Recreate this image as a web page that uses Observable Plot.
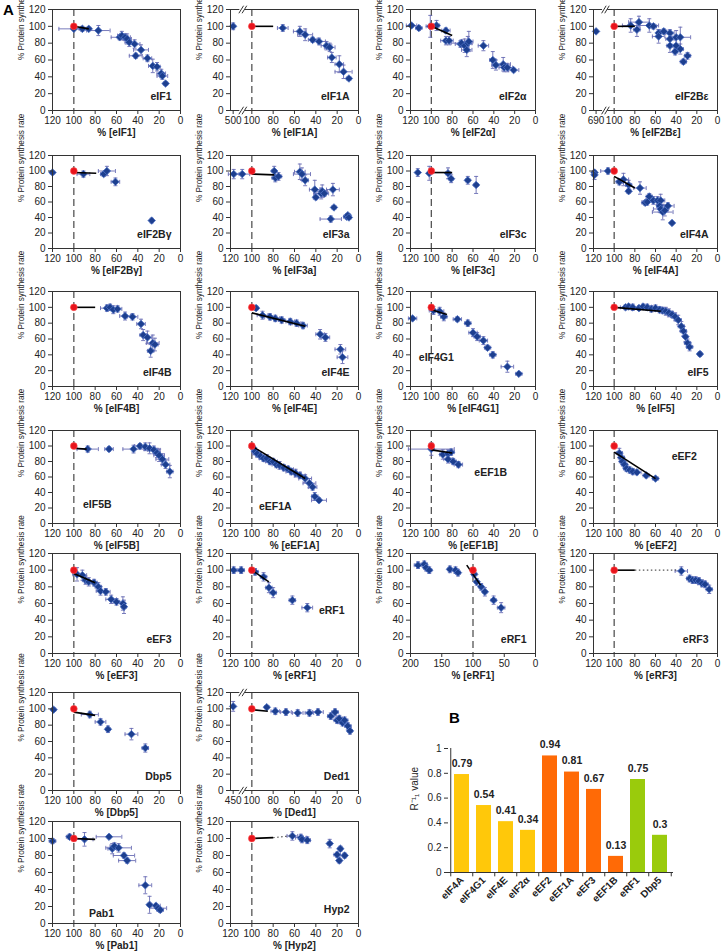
<!DOCTYPE html>
<html><head><meta charset="utf-8">
<script src="https://cdn.jsdelivr.net/npm/d3@7"></script>
<script src="https://cdn.jsdelivr.net/npm/@observablehq/plot@0.6"></script>
<style>
body{margin:0;background:#fff;font-family:"Liberation Sans",Arial,sans-serif;}
#root{position:relative;width:724px;height:951px;overflow:hidden;}
.panel{position:absolute;}
.big{position:absolute;font-weight:bold;font-size:15px;}
</style></head><body><div id="root"></div><script>
// ---------- data: [x %, y %, x error, y error] ----------
const eIF1 = [[100,97,14,2],[92,97,3,3],[86,97,2,2],[77,95,11,6],[57,87,8,3],[55,89,4,5],[52,87,5,4],[50,85,4,6],[48,81,4,5],[43,79,5,5],[42,65,6,3],[37,72,7,6],[31,62,4,4],[26,53,4,8],[22,52,3,5],[18,44,4,5],[17,41,5,4],[14,32,2,2]];
const eIF1A = [[500,100,0,4],[71,98,5,4],[55,94,6,6],[50,90,7,7],[43,84,4,3],[37,82,6,4],[30,77,5,5],[27,75,5,5],[25,63,4,6],[18,55,4,10],[14,46,8,8],[9,38,2,2]];
const eIF2a = [[119,101,5,2],[112,98,3,3],[101,100,4,13],[95,101,3,6],[86,95,4,3],[86,83,5,5],[83,83,4,5],[72,79,5,4],[71,80,10,4],[68,77,4,8],[66,72,5,8],[65,80,4,8],[64,82,4,12],[50,77,5,6],[41,60,3,10],[38,54,4,6],[31,55,7,8],[30,51,5,5],[27,51,5,5],[21,48,5,2]];
const eIF2Be = [[690,94,0,2],[84,101,8,8],[78,96,3,8],[76,105,10,7],[66,101,9,8],[62,100,3,3],[57,92,2,4],[57,88,6,8],[52,94,3,3],[46,92,4,4],[46,85,4,8],[46,77,3,8],[41,70,2,4],[40,77,4,8],[40,87,4,8],[36,87,10,12],[36,73,3,6],[33,58,3,3],[29,65,3,4]];
const eIF2Bg = [[120,98,2,0],[91,96,6,4],[72,96,3,3],[69,100,8,6],[61,86,4,5],[27,36,1,3]];
const eIF3a = [[117,96,5,6],[109,96,7,6],[79,100,2,6],[78,91,3,5],[75,93,3,5],[55,99,5,10],[53,96,8,8],[50,88,3,7],[41,76,5,12],[40,66,2,3],[35,71,7,7],[34,74,5,8],[32,71,2,4],[24,76,6,8],[23,53,2,2],[26,38,10,4],[11,41,3,3],[10,43,2,2],[9,40,2,2]];
const eIF3c = [[113,98,0,5],[102,97,0,9],[84,97,2,7],[81,90,2,5],[65,88,2,5],[57,82,2,11]];
const eIF4A = [[119,98,2,2],[119,95,2,6],[106,100,7,4],[95,86,3,4],[91,89,5,8],[86,82,3,6],[86,74,2,3],[75,78,6,8],[66,67,3,4],[70,59,3,3],[68,60,5,4],[62,62,4,5],[58,62,6,5],[55,62,4,8],[56,55,3,8],[55,51,7,5],[53,47,10,10],[51,49,3,7],[48,55,6,4],[44,33,1,1]];
const eIF4B = [[69,99,6,4],[66,100,3,4],[63,97,5,5],[59,98,4,4],[52,89,5,5],[45,88,5,4],[37,79,4,6],[35,65,3,7],[31,62,4,8],[28,45,3,8],[26,55,6,10],[24,53,3,8]];
const eIF4E = [[96,99,2,3],[90,90,5,5],[83,88,5,4],[78,86,4,4],[72,84,3,4],[64,82,4,4],[58,80,4,4],[52,77,4,4],[36,66,4,6],[31,62,4,5],[17,47,5,6],[15,37,5,8]];
const eIF4G1 = [[118,86,4,2],[98,96,4,5],[92,95,4,5],[88,88,3,5],[75,85,4,3],[65,80,3,4],[60,68,4,5],[56,63,3,5],[50,58,4,5],[46,49,3,3],[41,40,3,4],[27,25,6,7],[16,16,3,2]];
const eIF5 = [[89,100,5,3],[86,101,3,3],[82,100,5,4],[76,99,5,3],[72,101,4,3],[68,100,5,4],[64,98,4,4],[60,99,4,4],[56,97,4,4],[53,96,4,4],[50,95,3,5],[47,93,4,5],[44,91,4,4],[41,88,3,5],[38,84,3,6],[35,76,3,6],[33,70,3,6],[31,63,2,6],[29,55,3,5],[27,50,3,5],[17,41,2,3]];
const eIF5B = [[87,96,10,4],[67,96,4,3],[44,96,10,5],[38,100,5,3],[33,99,4,5],[29,97,5,7],[25,95,6,5],[22,91,3,6],[20,88,5,8],[17,83,6,7],[14,76,4,5],[10,67,3,8]];
const eEF1A = [[99,98,2,3],[97,93,3,4],[95,90,4,4],[92,87,4,4],[89,84,4,4],[86,84,3,5],[83,80,4,4],[80,80,4,4],[77,76,4,4],[74,75,4,5],[70,72,4,4],[66,70,5,4],[63,67,5,4],[59,65,5,5],[55,62,5,4],[50,58,6,5],[46,52,6,6],[43,47,4,4],[41,35,3,5],[37,30,7,3]];
const eEF1B = [[100,96,22,8],[89,89,3,6],[84,90,3,5],[81,92,3,4],[84,83,4,5],[79,80,3,4],[74,76,4,4]];
const eEF2 = [[95,91,3,6],[93,85,3,5],[92,80,3,4],[90,76,3,4],[88,71,3,4],[85,69,3,4],[82,67,3,4],[78,66,4,3],[69,62,3,3],[60,58,3,2]];
const eEF3 = [[97,95,4,8],[92,94,4,6],[89,88,3,5],[86,86,4,5],[81,85,3,4],[77,80,3,5],[75,75,4,5],[70,74,4,4],[65,65,5,5],[60,62,3,4],[54,60,2,8],[53,56,2,8]];
const eRF1 = [[117,100,3,4],[110,100,3,4],[97,98,3,4],[89,92,3,5],[84,79,3,6],[80,73,3,6],[62,64,3,5],[48,55,5,5]];
const eRF1w = [[188,106,6,4],[178,107,5,4],[175,103,4,4],[170,100,4,4],[137,101,3,4],[128,100,4,4],[124,97,4,4],[98,95,4,4],[94,86,3,4],[87,80,3,4],[81,74,3,5],[67,64,4,5],[55,55,6,6]];
const eRF3 = [[35,99,6,5],[27,90,3,4],[24,88,4,4],[21,88,4,4],[18,87,4,4],[15,84,4,4],[12,83,3,4],[8,77,3,5]];
const Dbp5 = [[119,99,2,2],[85,93,8,4],[75,84,5,4],[68,75,2,4],[46,69,6,7],[33,52,3,5]];
const Ded1 = [[450,103,0,6],[86,102,2,2],[78,97,4,4],[68,96,5,4],[57,95,5,4],[46,95,4,4],[38,96,5,4],[26,91,3,4],[22,96,3,4],[20,86,3,4],[18,88,3,4],[15,83,3,4],[13,86,3,4],[10,79,3,4],[8,73,2,4]];
const Pab1 = [[120,97,3,3],[104,102,3,3],[90,99,8,8],[67,102,12,2],[64,88,4,6],[62,91,4,4],[58,89,12,5],[53,80,10,3],[50,74,8,3],[33,45,6,10],[29,22,2,10],[23,21,4,2],[21,18,8,3],[19,16,3,3]];
const Hyp2 = [[62,103,5,5],[54,101,5,4],[53,99,2,4],[48,98,3,4],[27,94,2,5],[20,81,3,3],[18,74,2,3],[17,88,2,3],[13,80,2,3]];

// fitted lines [panel, x1, y1, x2, y2]
const fitLines = [["eIF1",100,100,86,97],["eIF1A",100,100,80,100],["eIF2a",100,100,80,89],["eIF2Be",100,100,80,100],
 ["eIF2Bg",100,98,79,97],["eIF3a",100,96,79,95],["eIF3c",100,98,80,98],["eIF4A",100,93,80,78],
 ["eIF4B",100,100,80,100],["eIF4E",100,93,50,76],["eIF4G1",100,97,85,91],["eIF5",100,100,55,95],
 ["eIF5B",100,97,88,96],["eEF1A",100,100,50,58],["eEF1B",100,95,80,91],["eEF2",100,92,60,58],
 ["eEF3",100,96,80,85],["eRF1",100,100,84,86],["eRF1w",110,106,88,82],["eRF3",100,100,80,100],
 ["Dbp5",100,96,80,92],["Ded1",100,99,85,97],["Pab1",100,100,80,99],["Hyp2",100,100,80,101]];
const dottedLines = [["eRF3",80,100,40,100],["Hyp2",80,101,64,103]];
// broken axes: [panel, value shown at the break]
const axisBreaks = [["eIF1A",500],["eIF2Be",690],["Ded1",450]];

// panel B
const barNames = ["eIF4A","eIF4G1","eIF4E","eIF2α","eEF2","eEF1A","eEF3","eEF1B","eRF1","Dbp5"];
const barValues = [0.79,0.54,0.41,0.34,0.94,0.81,0.67,0.13,0.75,0.30];
const barGroups = ["i","i","i","i","e","e","e","e","t","t"];

// ---------- layout ----------
const colLeft = [52, 230, 410, 593], colRight = [180, 358, 535, 717];
const rowTop = [9, 155, 291, 430, 553, 692, 821], rowBottom = [110, 248, 386, 523, 653, 790, 923];
const panels = [
 {key:"eIF1",data:eIF1,r:0,c:0,name:"eIF1",xl:"% [eIF1]"},
 {key:"eIF1A",data:eIF1A,r:0,c:1,name:"eIF1A",xl:"% [eIF1A]"},
 {key:"eIF2a",data:eIF2a,r:0,c:2,name:"eIF2α",xl:"% [eIF2α]"},
 {key:"eIF2Be",data:eIF2Be,r:0,c:3,name:"eIF2Bε",xl:"% [eIF2Bε]"},
 {key:"eIF2Bg",data:eIF2Bg,r:1,c:0,name:"eIF2Bγ",xl:"% [eIF2Bγ]"},
 {key:"eIF3a",data:eIF3a,r:1,c:1,name:"eIF3a",xl:"% [eIF3a]"},
 {key:"eIF3c",data:eIF3c,r:1,c:2,name:"eIF3c",xl:"% [eIF3c]"},
 {key:"eIF4A",data:eIF4A,r:1,c:3,name:"eIF4A",xl:"% [eIF4A]"},
 {key:"eIF4B",data:eIF4B,r:2,c:0,name:"eIF4B",xl:"% [eIF4B]"},
 {key:"eIF4E",data:eIF4E,r:2,c:1,name:"eIF4E",xl:"% [eIF4E]"},
 {key:"eIF4G1",data:eIF4G1,r:2,c:2,name:"eIF4G1",xl:"% [eIF4G1]",lab:[112,37,"start"]},
 {key:"eIF5",data:eIF5,r:2,c:3,name:"eIF5",xl:"% [eIF5]"},
 {key:"eIF5B",data:eIF5B,r:3,c:0,name:"eIF5B",xl:"% [eIF5B]",lab:[78,25,"middle"]},
 {key:"eEF1A",data:eEF1A,r:3,c:1,name:"eEF1A",xl:"% [eEF1A]",lab:[78,22,"middle"]},
 {key:"eEF1B",data:eEF1B,r:3,c:2,name:"eEF1B",xl:"% [eEF1B]",lab:[43,66,"middle"]},
 {key:"eEF2",data:eEF2,r:3,c:3,name:"eEF2",xl:"% [eEF2]",lab:[20,86,"end"]},
 {key:"eEF3",data:eEF3,r:4,c:0,name:"eEF3",xl:"% [eEF3]"},
 {key:"eRF1",data:eRF1,r:4,c:1,name:"eRF1",xl:"% [eRF1]",lab:[13,52,"end"]},
 {key:"eRF1w",data:eRF1w,r:4,c:2,name:"eRF1",xl:"% [eRF1]",wide:true},
 {key:"eRF3",data:eRF3,r:4,c:3,name:"eRF3",xl:"% [eRF3]"},
 {key:"Dbp5",data:Dbp5,r:5,c:0,name:"Dbp5",xl:"% [Dbp5]"},
 {key:"Ded1",data:Ded1,r:5,c:1,name:"Ded1",xl:"% [Ded1]"},
 {key:"Pab1",data:Pab1,r:6,c:0,name:"Pab1",xl:"% [Pab1]",lab:[74,12,"middle"]},
 {key:"Hyp2",data:Hyp2,r:6,c:1,name:"Hyp2",xl:"% [Hyp2]"}
];
const BREAK_POS = 117.5;
const YLABEL = "% Protein synthesis rate";
const ptFill = "#1d3f8f", ptStroke = "#4f72c4", errCol = "#6a6db4";
const hcap = {draw(ctx, size){const r=Math.sqrt(size/Math.PI); ctx.moveTo(-r,0); ctx.lineTo(r,0);}};
const vcap = {draw(ctx, size){const r=Math.sqrt(size/Math.PI); ctx.moveTo(0,-r); ctx.lineTo(0,r);}};
const root = document.getElementById("root");
const font = "Liberation Sans, Arial, sans-serif";

function makePanel(p){
  const L = colLeft[p.c], R = colRight[p.c], T = rowTop[p.r], B = rowBottom[p.r];
  const mL = 52, mR = 4, mT = 8, mB = 34;
  const brk = axisBreaks.find(b => b[0] === p.key);
  const pos = x => (brk && x > 120) ? BREAK_POS : x;
  const rows = p.data.map(([x,y,ex,ey]) => ({x:pos(x), y, ex, ey, xl:pos(x)-ex, xr:pos(x)+ex, yl:y-ey, yr:y+ey}));
  const xmax = p.wide ? 200 : 120;
  let xt = p.wide ? [0,50,100,150,200] : [0,20,40,60,80,100,120];
  if (brk) xt = [0,20,40,60,80,100,BREAK_POS];
  const fmt = d => (brk && d === BREAK_POS) ? String(brk[1]) : String(d);
  const fit = fitLines.filter(f => f[0] === p.key);
  const dot = dottedLines.filter(f => f[0] === p.key);
  const marks = [
    Plot.ruleX([100], {stroke:"#555", strokeWidth:1.3, strokeDasharray:"7,4"}),
    Plot.ruleY(rows.filter(d=>d.ex>0), {y:"y", x1:"xl", x2:"xr", stroke:errCol, strokeWidth:0.9}),
    Plot.dot(rows.filter(d=>d.ex>0), {x:"xl", y:"y", symbol:vcap, r:2, stroke:errCol, strokeWidth:0.9}),
    Plot.dot(rows.filter(d=>d.ex>0), {x:"xr", y:"y", symbol:vcap, r:2, stroke:errCol, strokeWidth:0.9}),
    Plot.ruleX(rows.filter(d=>d.ey>0), {x:"x", y1:"yl", y2:"yr", stroke:errCol, strokeWidth:0.9}),
    Plot.dot(rows.filter(d=>d.ey>0), {x:"x", y:"yl", symbol:hcap, r:2, stroke:errCol, strokeWidth:0.9}),
    Plot.dot(rows.filter(d=>d.ey>0), {x:"x", y:"yr", symbol:hcap, r:2, stroke:errCol, strokeWidth:0.9}),
    Plot.dot(rows, {x:"x", y:"y", symbol:"diamond2", r:3.4, fill:ptFill, stroke:ptStroke, strokeWidth:0.8}),
    Plot.link(fit, {x1:d=>d[1], y1:d=>d[2], x2:d=>d[3], y2:d=>d[4], stroke:"#000", strokeWidth:1.6}),
    Plot.link(dot, {x1:d=>d[1], y1:d=>d[2], x2:d=>d[3], y2:d=>d[4], stroke:"#555", strokeWidth:1.2, strokeDasharray:"1.5,2.5"}),
    Plot.dot([[100,100]], {x:d=>d[0], y:d=>d[1], r:3.4, fill:"#e8141c", stroke:"#ff5050", strokeWidth:0.6}),
    Plot.frame({stroke:"#333", strokeWidth:1}),
    Plot.axisX(xt, {tickSize:4, tickPadding:2, tickFormat:fmt, fontSize:10, label:null, stroke:"#333"}),
    Plot.axisY([0,20,40,60,80,100,120], {tickSize:4, tickPadding:3, fontSize:10, label:null, stroke:"#333"}),
    Plot.text([p.xl], {frameAnchor:"bottom", dy:25, fontWeight:"bold", fontSize:10}),
    Plot.text([YLABEL], {frameAnchor:"left", rotate:-90, dx:-31, fontSize:8.2})
  ];
  if (p.lab) marks.push(Plot.text([p.name], {x:()=>p.lab[0], y:()=>p.lab[1], textAnchor:p.lab[2], fontWeight:"bold", fontSize:10.5}));
  else marks.push(Plot.text([p.name], {frameAnchor:"bottom-right", dx:-9, dy:-11, textAnchor:"end", fontWeight:"bold", fontSize:10.5}));
  if (brk) {
    const bx = (100 + BREAK_POS)/2;
    for (const yy of [0,120]) {
      marks.push(Plot.ruleY([yy], {x1:bx-2.5, x2:bx+2.5, stroke:"white", strokeWidth:3}));
      marks.push(Plot.link([bx+1.2, bx-1.8], {x1:d=>d+2.2, x2:d=>d-2.2, y1:yy-4.5, y2:yy+4.5, stroke:"#333", strokeWidth:1}));
    }
  }
  const svg = Plot.plot({
    width: (R-L)+mL+mR, height:(B-T)+mT+mB,
    marginLeft:mL, marginRight:mR, marginTop:mT, marginBottom:mB,
    x:{domain:[xmax,0], axis:null}, y:{domain:[0,120], axis:null},
    style:{background:"transparent", overflow:"visible", fontFamily:font, color:"#222"},
    marks
  });
  const div = document.createElement("div");
  div.className = "panel";
  div.style.left = (L-mL)+"px"; div.style.top = (T-mT)+"px";
  div.appendChild(svg);
  root.appendChild(div);
}
panels.forEach(makePanel);

// panel B
(function(){
  const L = 448, R = 673, T = 748, B = 872;
  const mL = 44, mR = 6, mT = 30, mB = 40;
  const bars = barNames.map((n,i)=>({n, v:barValues[i], g:barGroups[i]}));
  const step = (R-L)/barNames.length;
  const svg = Plot.plot({
    width:(R-L)+mL+mR, height:(B-T)+mT+mB, marginLeft:mL, marginRight:mR, marginTop:mT, marginBottom:mB,
    x:{domain:barNames, paddingInner:0.3, paddingOuter:0.15, axis:null},
    y:{domain:[0,1], axis:null},
    color:{domain:["i","e","t"], range:["#ffc80a","#ff6a06","#9acb0c"]},
    style:{background:"transparent", overflow:"visible", fontFamily:font, color:"#222"},
    marks:[
      Plot.barY(bars, {x:"n", y:"v", fill:"g"}),
      Plot.text(bars, {x:"n", y:"v", text:d=>String(d.v), dy:-11, fontWeight:"bold", fontSize:10.5}),
      Plot.ruleY([0], {stroke:"#333", strokeWidth:1.2}),
      Plot.ruleX(barNames, {x:d=>d, dx:-step/2, y1:0, y2:-0.035, stroke:"#333"}),
      Plot.ruleX([barNames[barNames.length-1]], {x:d=>d, dx:step/2, y1:0, y2:-0.035, stroke:"#333"}),
      Plot.axisX({tickSize:0, tickRotate:-45, tickPadding:6, fontWeight:"bold", fontSize:10, label:null}),
      Plot.axisY([0,0.2,0.4,0.6,0.8,1], {tickSize:4, tickPadding:3, fontSize:10, label:null, stroke:"#333", tickFormat:d=>String(d)}),
      Plot.ruleX([0], {x:()=>barNames[0], dx:-step/2, y1:0, y2:1, stroke:"#333"}),
      Plot.text(["R⁻¹₁ value"], {frameAnchor:"left", rotate:-90, dx:-34, fontSize:10})
    ]
  });
  const div = document.createElement("div");
  div.className = "panel";
  div.style.left = (L-mL)+"px"; div.style.top = (T-mT)+"px";
  div.appendChild(svg);
  root.appendChild(div);
})();

const A = document.createElement("div"); A.className="big"; A.textContent="A"; A.style.left="3px"; A.style.top="1px"; root.appendChild(A);
const Bl = document.createElement("div"); Bl.className="big"; Bl.textContent="B"; Bl.style.left="449px"; Bl.style.top="709px"; root.appendChild(Bl);
</script></body></html>
